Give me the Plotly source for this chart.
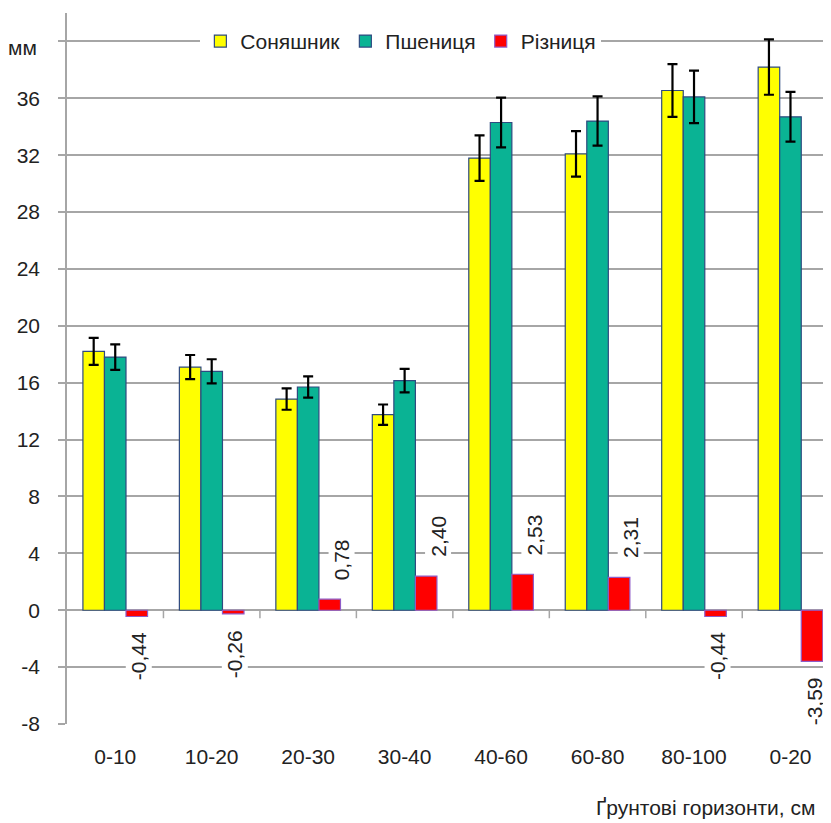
import plotly.graph_objects as go

categories = ["0-10", "10-20", "20-30", "30-40", "40-60", "60-80", "80-100", "0-20"]
sunflower = [18.2, 17.1, 14.85, 13.75, 31.8, 32.1, 36.55, 38.2]
sunflower_err = [0.95, 0.85, 0.75, 0.72, 1.6, 1.6, 1.85, 1.95]
wheat = [17.8, 16.8, 15.7, 16.15, 34.3, 34.4, 36.1, 34.7]
wheat_err = [0.9, 0.85, 0.75, 0.83, 1.75, 1.73, 1.85, 1.75]
difference = [-0.44, -0.26, 0.78, 2.40, 2.53, 2.31, -0.44, -3.59]
y_ticks = [-8, -4, 0, 4, 8, 12, 16, 20, 24, 28, 32, 36, 40]

FONT = "Liberation Sans, Arial, sans-serif"
FS = 21
TXT = "#222222"
GRID = "#A6A6A6"
BARGAP = 0.33

fig = go.Figure()
err_style = dict(type="data", color="black", thickness=2.2, width=5)
fig.add_trace(go.Bar(name="Соняшник", x=categories, y=sunflower,
                     marker=dict(color="#FFFF00", line=dict(color="#2F4A80", width=1.2)),
                     error_y=dict(array=sunflower_err, **err_style)))
fig.add_trace(go.Bar(name="Пшениця", x=categories, y=wheat,
                     marker=dict(color="#0AB394", line=dict(color="#2F4A80", width=1.2)),
                     error_y=dict(array=wheat_err, **err_style)))
fig.add_trace(go.Bar(name="Різниця", x=categories, y=difference,
                     marker=dict(color="#FF0000", line=dict(color="#8E5CC8", width=1.2))))

bar_w = (1 - BARGAP) / 3
annotations = []
for i, v in enumerate(difference):
    pos = v >= 0
    annotations.append(dict(
        x=i + bar_w, y=v, xref="x", yref="y",
        text=f"{v:.2f}".replace(".", ","), showarrow=False, textangle=-90,
        font=dict(family=FONT, size=FS, color=TXT),
        bgcolor="white", borderpad=1,
        xanchor="center", yanchor="bottom" if pos else "top",
        xshift=12 if pos else 2, yshift=17 if pos else -14))

annotations.append(dict(x=-0.036, xref="paper", xanchor="right", y=40, yref="y", yshift=-6,
                        text="мм", showarrow=False, font=dict(family=FONT, size=FS, color=TXT)))
annotations.append(dict(x=0.982, xref="paper", xanchor="right", y=-0.118, yref="paper",
                        yanchor="middle", text="Ґрунтові горизонти, см", showarrow=False,
                        font=dict(family=FONT, size=FS, color=TXT)))

shapes = []
for i in range(len(categories) - 1):
    shapes.append(dict(type="line", xref="x", yref="y", x0=i + 0.5, x1=i + 0.5,
                       ysizemode="pixel", yanchor=0, y0=0, y1=-8,
                       line=dict(color=GRID, width=1.5)))

fig.update_layout(
    width=823, height=815,
    margin=dict(l=59, r=0, t=5, b=99),
    paper_bgcolor="white", plot_bgcolor="white",
    barmode="group", bargap=BARGAP, bargroupgap=0,
    font=dict(family=FONT, size=FS, color=TXT),
    showlegend=True,
    legend=dict(orientation="h", x=0.437, xanchor="center", y=0.96, yanchor="middle",
                bgcolor="white", font=dict(family=FONT, size=FS, color=TXT),
                traceorder="normal"),
    xaxis=dict(type="category", range=[-0.5, 7.42], showgrid=False, showline=False,
               ticks="", ticklabelstandoff=18, tickfont=dict(family=FONT, size=FS, color=TXT)),
    yaxis=dict(range=[-8, 42], tickvals=y_ticks,
               ticktext=[str(t) if t != 40 else "" for t in y_ticks],
               showgrid=True, gridcolor=GRID, gridwidth=1.5,
               zeroline=True, zerolinecolor=GRID, zerolinewidth=2,
               showline=True, linecolor=GRID, linewidth=1.5,
               ticks="outside", ticklen=7, tickcolor=GRID, tickwidth=1.5,
               ticklabelstandoff=14, tickfont=dict(family=FONT, size=FS, color=TXT)),
    annotations=annotations, shapes=shapes,
)
fig.write_html("out.html")
